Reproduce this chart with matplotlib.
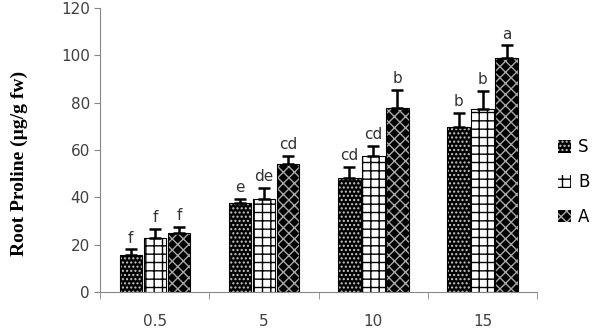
import numpy as np
import matplotlib.pyplot as plt
from matplotlib.ticker import FixedLocator

plt.rcParams['hatch.linewidth'] = 1.0

salt = ['0.5', '5', '10', '15']
series = ['S', 'B', 'A']
S_vals = [15.6, 37.6, 48.2, 69.7]
B_vals = [22.8, 39.3, 57.5, 77.3]
A_vals = [25.0, 54.0, 77.7, 98.9]
S_err = [2.4, 1.7, 4.6, 5.9]
B_err = [3.8, 4.7, 4.2, 7.7]
A_err = [2.5, 3.5, 7.8, 5.4]
S_let = ['f', 'e', 'cd', 'b']
B_let = ['f', 'de', 'cd', 'b']
A_let = ['f', 'cd', 'b', 'a']

fig = plt.figure(figsize=(5.93, 3.31), dpi=100)
ax = fig.add_axes([0.169, 0.118, 0.737, 0.858])

x = np.arange(len(salt))
w = 0.205
styles = [
    dict(color='black', hatch_color='#c8c8c8', hatch='....'),
    dict(color='white', hatch_color='black', hatch='++'),
    dict(color='black', hatch_color='#a8a8a8', hatch='xxx'),
]
vals = [S_vals, B_vals, A_vals]
errs = [S_err, B_err, A_err]
lets = [S_let, B_let, A_let]

handles = []
for i in range(3):
    pos = x + (i - 1) * (w + 0.015)
    st = styles[i]
    b = ax.bar(pos, vals[i], w, color=st['color'], edgecolor=st['hatch_color'],
               hatch=st['hatch'], linewidth=0, label=series[i], zorder=2)
    ax.bar(pos, vals[i], w, fill=False, edgecolor='black', linewidth=0.8, zorder=3)
    handles.append(b)
    ax.errorbar(pos, vals[i], yerr=[np.zeros(4), errs[i]], fmt='none',
                ecolor='black', elinewidth=1.8, capsize=4, capthick=1.8, zorder=4)
    for p, v, e, t in zip(pos, vals[i], errs[i], lets[i]):
        ax.text(p, v + e + 1.5, t, ha='center', va='bottom', fontsize=11,
                color='#333333', family='DejaVu Sans')

ax.set_xlim(-0.5, 3.5)
ax.set_ylim(0, 120)
ax.set_yticks(range(0, 121, 20))
ax.set_xticks(x)
ax.set_xticklabels(salt)
ax.xaxis.set_minor_locator(FixedLocator(np.arange(-0.5, 3.6, 1)))
ax.tick_params(axis='x', which='major', length=0, pad=16)
ax.tick_params(axis='x', which='minor', length=5, color='#888888')
ax.tick_params(axis='y', length=4, color='#888888')
ax.tick_params(labelsize=11, labelcolor='#404040')

for s in ['top', 'right']:
    ax.spines[s].set_visible(False)
for s in ['left', 'bottom']:
    ax.spines[s].set_color('#888888')

ax.set_ylabel('Root Proline (µg/g fw)', family='Liberation Serif',
              fontweight='bold', fontsize=14)
ax.yaxis.set_label_coords(-0.165, 0.454)

fig.legend(handles=handles, labels=series, loc='center left',
           bbox_to_anchor=(0.93, 0.45), frameon=False, fontsize=12,
           handlelength=0.8, handleheight=0.8, handletextpad=0.4,
           labelspacing=1.0, borderaxespad=0)

fig.savefig('out.png', dpi=100)
